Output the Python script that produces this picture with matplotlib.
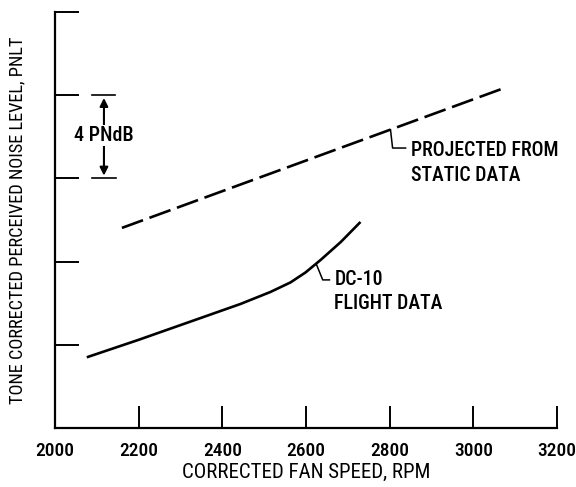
import matplotlib
matplotlib.use("Agg")
import matplotlib.pyplot as plt
import numpy as np

# Data (relative PNLT units, 2 PNdB per y tick)
proj_rpm = [2160, 3073]
proj_pnlt = [4.81, 8.17]

dc10_rpm = [2079, 2200, 2347, 2443, 2515, 2563, 2599, 2635, 2683, 2728]
dc10_pnlt = [1.71, 2.12, 2.64, 2.98, 3.27, 3.50, 3.74, 4.04, 4.47, 4.93]

x_ticks = [2000, 2200, 2400, 2600, 2800, 3000, 3200]
y_ticks = [0, 2, 4, 6, 8, 10]

FONT = ['Roboto Condensed', 'Archivo Narrow', 'DejaVu Sans']
plt.rcParams['font.family'] = FONT
plt.rcParams['font.weight'] = 'medium'

fig = plt.figure(figsize=(5.76, 4.87), dpi=100)
ax = fig.add_axes([55/576, (487-428)/487, (557-55)/576, (428-12)/487])
ax.set_xlim(2000, 3200)
ax.set_ylim(0, 10)

for s in ['top', 'right']:
    ax.spines[s].set_visible(False)
for s in ['left', 'bottom']:
    ax.spines[s].set_linewidth(1.6)
    ax.spines[s].set_color('black')

ax.set_xticks(x_ticks)
ax.set_xticklabels([str(v) for v in x_ticks], fontsize=14)
ax.set_yticks(y_ticks)
ax.set_yticklabels([])
ax.tick_params(axis='x', direction='in', length=16, width=1.4, pad=10)
ax.tick_params(axis='y', direction='in', length=17.5, width=1.4)
ax.set_xlabel('CORRECTED FAN SPEED, RPM', fontsize=15, labelpad=2)
ax.set_ylabel('TONE CORRECTED PERCEIVED NOISE LEVEL, PNLT', fontsize=13.2, labelpad=17)

# Lines
ax.plot(proj_rpm, proj_pnlt, color='black', lw=1.9, dashes=(8.5, 2.6), solid_capstyle='butt')
ax.plot(dc10_rpm, dc10_pnlt, color='black', lw=1.9, solid_joinstyle='round')

# 4 PNdB bracket
ax.plot([2089, 2144], [8, 8], color='black', lw=1.2)
ax.plot([2089, 2146], [6, 6], color='black', lw=1.2)
ax.annotate('', xy=(2117, 8), xytext=(2117, 7),
            arrowprops=dict(arrowstyle='-|>', color='black', lw=1.5, mutation_scale=12))
ax.annotate('', xy=(2117, 6), xytext=(2117, 7),
            arrowprops=dict(arrowstyle='-|>', color='black', lw=1.5, mutation_scale=12))
ax.text(2117, 7.03, '4 PNdB', fontsize=14.5, ha='center', va='center',
        bbox=dict(facecolor='white', edgecolor='none', pad=1.0))

# Leaders and labels
ax.plot([2802, 2807, 2838], [7.17, 6.73, 6.73], color='black', lw=1.1)
ax.text(2850, 6.68, 'PROJECTED FROM', fontsize=14.3, ha='left', va='center')
ax.text(2850, 6.08, 'STATIC DATA', fontsize=14.3, ha='left', va='center')
ax.plot([2625, 2640, 2656], [3.93, 3.56, 3.56], color='black', lw=1.1)
ax.text(2668, 3.56, 'DC-10', fontsize=14.3, ha='left', va='center')
ax.text(2668, 3.00, 'FLIGHT DATA', fontsize=14.3, ha='left', va='center')

fig.savefig('out.png', dpi=100)
